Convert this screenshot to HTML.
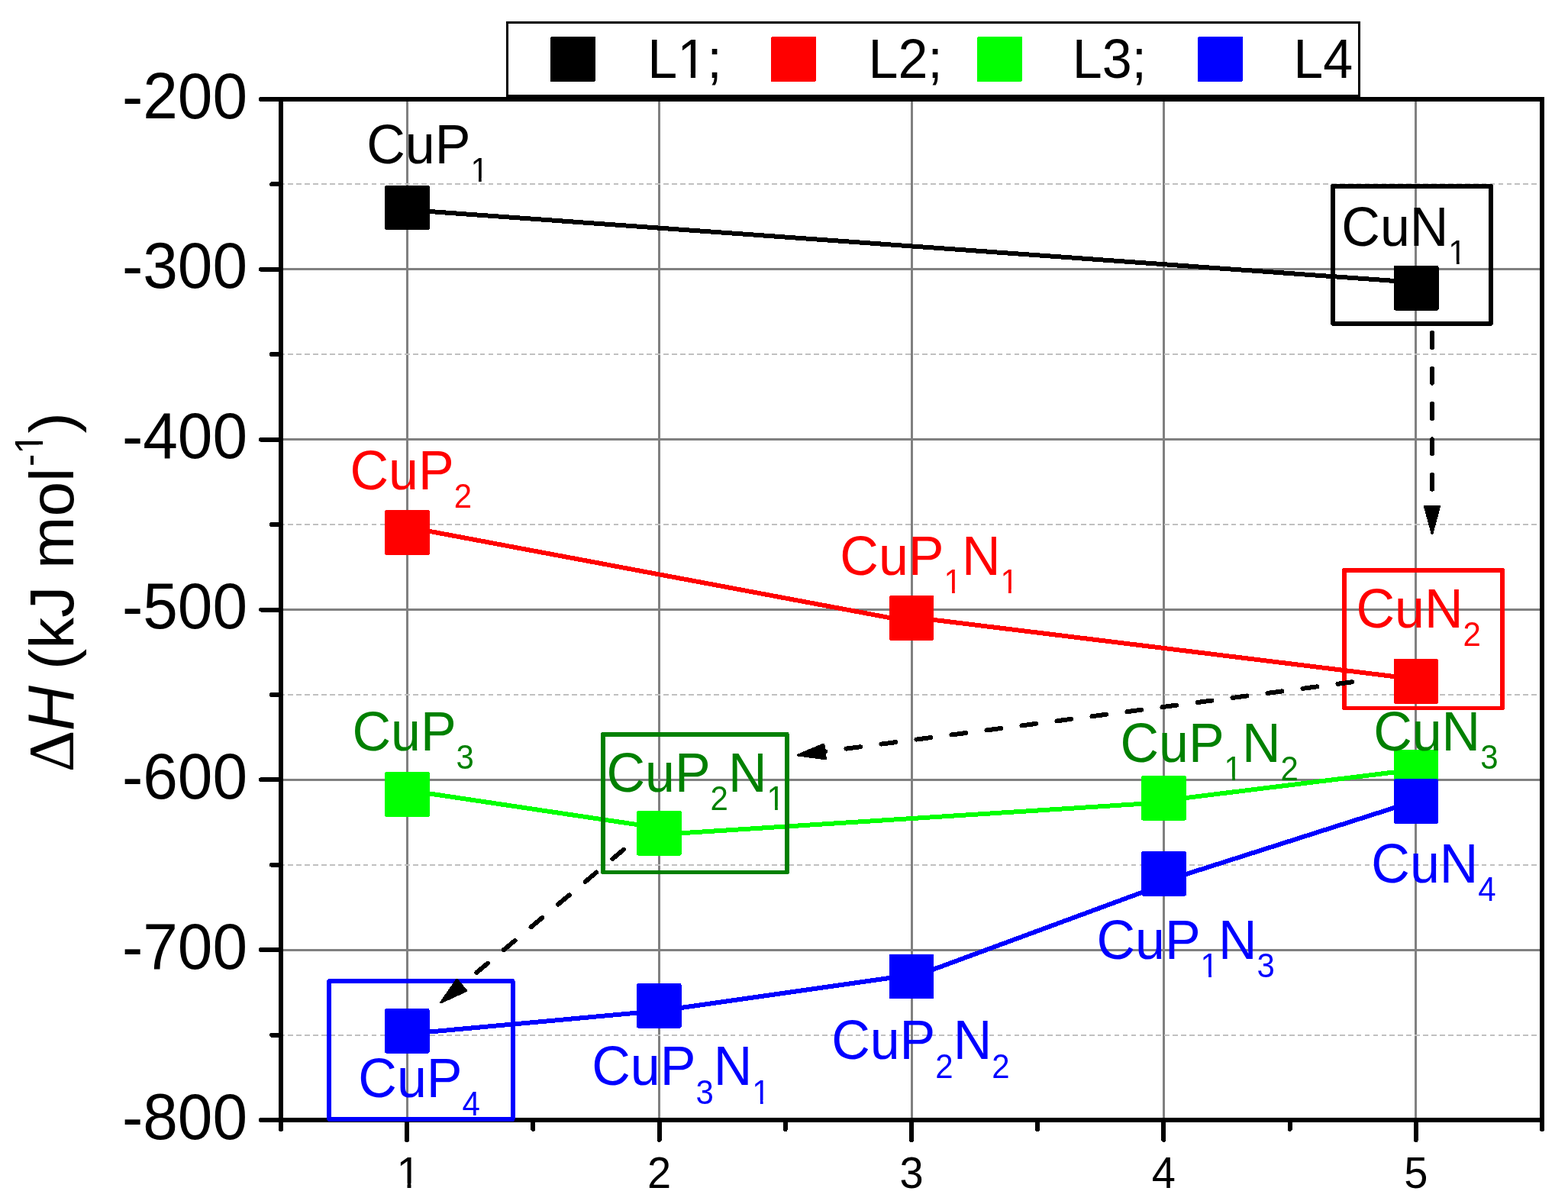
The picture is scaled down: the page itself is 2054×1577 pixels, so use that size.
<!DOCTYPE html>
<html><head><meta charset="utf-8"><title>Delta H chart</title>
<style>
html,body{margin:0;padding:0;background:#fff;}
svg{display:block;font-family:'Liberation Sans', Arial, sans-serif;}
line,rect,polygon,path{shape-rendering:crispEdges;}
</style></head>
<body>
<svg width="2054" height="1577" viewBox="0 0 2054 1577">
<defs>
<clipPath id="c1"><path clip-rule="evenodd" d="M-3000,-3000H3000V3000H-3000Z M137.87,18.86h8.86v6.94h-8.86Z M150.45,18.86h8.53v6.94h-8.53Z"/></clipPath>
<clipPath id="c2"><path clip-rule="evenodd" d="M-3000,-3000H3000V3000H-3000Z M141.73,18.86h8.86v6.94h-8.86Z M154.31,18.86h8.53v6.94h-8.53Z"/></clipPath>
<clipPath id="c3"><path clip-rule="evenodd" d="M-3000,-3000H3000V3000H-3000Z M137.87,18.86h8.86v6.94h-8.86Z M150.45,18.86h8.53v6.94h-8.53Z M211.78,18.86h8.86v6.94h-8.86Z M224.36,18.86h8.53v6.94h-8.53Z"/></clipPath>
<clipPath id="c4"><path clip-rule="evenodd" d="M-3000,-3000H3000V3000H-3000Z M211.78,18.86h8.86v6.94h-8.86Z M224.36,18.86h8.53v6.94h-8.53Z"/></clipPath>
<clipPath id="c5"><path clip-rule="evenodd" d="M-3000,-3000H3000V3000H-3000Z M137.87,18.86h8.86v6.94h-8.86Z M150.45,18.86h8.53v6.94h-8.53Z"/></clipPath>
<clipPath id="c6"><path clip-rule="evenodd" d="M-3000,-3000H3000V3000H-3000Z M211.78,18.86h8.86v6.94h-8.86Z M224.36,18.86h8.53v6.94h-8.53Z"/></clipPath>
<clipPath id="c7"><path clip-rule="evenodd" d="M-3000,-3000H3000V3000H-3000Z M137.87,18.86h8.86v6.94h-8.86Z M150.45,18.86h8.53v6.94h-8.53Z"/></clipPath>
<clipPath id="c8"><path clip-rule="evenodd" d="M-3000,-3000H3000V3000H-3000Z M2.77,-5.48h11.32v7.98h-11.32Z M19.03,-5.48h10.88v7.98h-10.88Z"/></clipPath>
<clipPath id="c9"><path clip-rule="evenodd" d="M-3000,-3000H3000V3000H-3000Z M418.77,-45.11h10.09v7.61h-10.09Z M433.19,-45.11h9.71v7.61h-9.71Z"/></clipPath>
<clipPath id="c10"><path clip-rule="evenodd" d="M-3000,-3000H3000V3000H-3000Z M42.76,-6.53h13.77v9.03h-13.77Z M62.72,-6.53h13.22v9.03h-13.22Z"/></clipPath>
</defs>
<rect width="2054" height="1577" fill="#fff"/>
<line x1="533.2" y1="130" x2="533.2" y2="1467" stroke="#808080" stroke-width="3"/>
<line x1="863.6" y1="130" x2="863.6" y2="1467" stroke="#808080" stroke-width="3"/>
<line x1="1194.0" y1="130" x2="1194.0" y2="1467" stroke="#808080" stroke-width="3"/>
<line x1="1524.4" y1="130" x2="1524.4" y2="1467" stroke="#808080" stroke-width="3"/>
<line x1="1854.8" y1="130" x2="1854.8" y2="1467" stroke="#808080" stroke-width="3"/>
<line x1="368" y1="352.8" x2="2020" y2="352.8" stroke="#808080" stroke-width="3"/>
<line x1="368" y1="575.7" x2="2020" y2="575.7" stroke="#808080" stroke-width="3"/>
<line x1="368" y1="798.5" x2="2020" y2="798.5" stroke="#808080" stroke-width="3"/>
<line x1="368" y1="1021.3" x2="2020" y2="1021.3" stroke="#808080" stroke-width="3"/>
<line x1="368" y1="1244.2" x2="2020" y2="1244.2" stroke="#808080" stroke-width="3"/>
<line x1="371" y1="241.4" x2="2017" y2="241.4" stroke="#c0c0c0" stroke-width="2" stroke-dasharray="6.7 4.233" stroke-dashoffset="4.593"/>
<line x1="371" y1="464.2" x2="2017" y2="464.2" stroke="#c0c0c0" stroke-width="2" stroke-dasharray="6.7 4.233" stroke-dashoffset="4.593"/>
<line x1="371" y1="687.1" x2="2017" y2="687.1" stroke="#c0c0c0" stroke-width="2" stroke-dasharray="6.7 4.233" stroke-dashoffset="4.593"/>
<line x1="371" y1="909.9" x2="2017" y2="909.9" stroke="#c0c0c0" stroke-width="2" stroke-dasharray="6.7 4.233" stroke-dashoffset="4.593"/>
<line x1="371" y1="1132.7" x2="2017" y2="1132.7" stroke="#c0c0c0" stroke-width="2" stroke-dasharray="6.7 4.233" stroke-dashoffset="4.593"/>
<line x1="371" y1="1355.6" x2="2017" y2="1355.6" stroke="#c0c0c0" stroke-width="2" stroke-dasharray="6.7 4.233" stroke-dashoffset="4.593"/>
<line x1="533.5" y1="274.9" x2="1855.2" y2="370.0" stroke="#000000" stroke-width="6"/>
<rect x="504.2" y="242.7" width="58.6" height="58.6" rx="2" fill="#000000"/>
<rect x="1825.9" y="348.0" width="58.6" height="58.6" rx="2" fill="#000000"/>
<line x1="533.5" y1="690.4" x2="1194.1" y2="814.5" stroke="#ff0000" stroke-width="6"/>
<line x1="1194.1" y1="808.3" x2="1854.9" y2="889.6" stroke="#ff0000" stroke-width="6"/>
<rect x="504.2" y="668.2" width="58.6" height="58.6" rx="2" fill="#ff0000"/>
<rect x="1164.8" y="780.1" width="58.6" height="58.6" rx="2" fill="#ff0000"/>
<rect x="1825.6" y="863.1" width="58.6" height="58.6" rx="2" fill="#ff0000"/>
<line x1="533.5" y1="1035.1" x2="863.5" y2="1084.4" stroke="#00ff00" stroke-width="6"/>
<line x1="863.5" y1="1093.1" x2="1524.5" y2="1051.0" stroke="#00ff00" stroke-width="6"/>
<line x1="1524.5" y1="1048.6" x2="1855.0" y2="1007.9" stroke="#00ff00" stroke-width="6"/>
<rect x="504.2" y="1011.2" width="58.6" height="58.6" rx="2" fill="#00ff00"/>
<rect x="834.2" y="1062.0" width="58.6" height="58.6" rx="2" fill="#00ff00"/>
<rect x="1495.2" y="1016.1" width="58.6" height="58.6" rx="2" fill="#00ff00"/>
<rect x="1825.7" y="982.1" width="58.6" height="58.6" rx="2" fill="#00ff00"/>
<line x1="533.4" y1="1354.2" x2="863.4" y2="1324.0" stroke="#0000ff" stroke-width="6"/>
<line x1="863.4" y1="1324.1" x2="1194.0" y2="1276.9" stroke="#0000ff" stroke-width="6"/>
<line x1="1194.0" y1="1280.3" x2="1524.6" y2="1158.3" stroke="#0000ff" stroke-width="6"/>
<line x1="1524.6" y1="1154.3" x2="1855.0" y2="1048.9" stroke="#0000ff" stroke-width="6"/>
<rect x="504.1" y="1321.1" width="58.6" height="58.6" rx="2" fill="#0000ff"/>
<rect x="834.1" y="1288.1" width="58.6" height="58.6" rx="2" fill="#0000ff"/>
<rect x="1164.7" y="1249.5" width="58.6" height="58.6" rx="2" fill="#0000ff"/>
<rect x="1495.3" y="1115.0" width="58.6" height="58.6" rx="2" fill="#0000ff"/>
<rect x="1825.7" y="1020.3" width="58.6" height="58.6" rx="2" fill="#0000ff"/>
<text transform="translate(480.25,214.00) scale(1,1.04)" fill="#000000" font-size="70" clip-path="url(#c1)"><tspan x="0.00" y="0">CuP</tspan><tspan x="136.17" y="23.3" font-size="42">1</tspan></text>
<text transform="translate(1757.35,321.90) scale(1,1.04)" fill="#000000" font-size="70" clip-path="url(#c2)"><tspan x="0.00" y="0">CuN</tspan><tspan x="140.03" y="23.3" font-size="42">1</tspan></text>
<text transform="translate(458.55,641.10) scale(1,1.04)" fill="#ff0000" font-size="70"><tspan x="0.00" y="0">CuP</tspan><tspan x="136.17" y="23.3" font-size="42">2</tspan></text>
<text transform="translate(1100.35,752.70) scale(1,1.04)" fill="#ff0000" font-size="70" clip-path="url(#c3)"><tspan x="0.00" y="0">CuP</tspan><tspan x="136.17" y="23.3" font-size="42">1</tspan><tspan x="159.53" y="0">N</tspan><tspan x="210.08" y="23.3" font-size="42">1</tspan></text>
<text transform="translate(1776.45,821.90) scale(1,1.04)" fill="#ff0000" font-size="70"><tspan x="0.00" y="0">CuN</tspan><tspan x="140.03" y="23.3" font-size="42">2</tspan></text>
<text transform="translate(461.45,983.10) scale(1,1.04)" fill="#008000" font-size="70"><tspan x="0.00" y="0">CuP</tspan><tspan x="136.17" y="23.3" font-size="42">3</tspan></text>
<text transform="translate(794.45,1036.70) scale(1,1.04)" fill="#008000" font-size="70" clip-path="url(#c4)"><tspan x="0.00" y="0">CuP</tspan><tspan x="136.17" y="23.3" font-size="42">2</tspan><tspan x="159.53" y="0">N</tspan><tspan x="210.08" y="23.3" font-size="42">1</tspan></text>
<text transform="translate(1467.45,998.00) scale(1,1.04)" fill="#008000" font-size="70" clip-path="url(#c5)"><tspan x="0.00" y="0">CuP</tspan><tspan x="136.17" y="23.3" font-size="42">1</tspan><tspan x="159.53" y="0">N</tspan><tspan x="210.08" y="23.3" font-size="42">2</tspan></text>
<text transform="translate(1799.15,982.50) scale(1,1.04)" fill="#008000" font-size="70"><tspan x="0.00" y="0">CuN</tspan><tspan x="140.03" y="23.3" font-size="42">3</tspan></text>
<text transform="translate(469.35,1436.60) scale(1,1.04)" fill="#0000ff" font-size="70"><tspan x="0.00" y="0">CuP</tspan><tspan x="136.17" y="23.3" font-size="42">4</tspan></text>
<text transform="translate(775.25,1421.40) scale(1,1.04)" fill="#0000ff" font-size="70" clip-path="url(#c6)"><tspan x="0.00" y="0">CuP</tspan><tspan x="136.17" y="23.3" font-size="42">3</tspan><tspan x="159.53" y="0">N</tspan><tspan x="210.08" y="23.3" font-size="42">1</tspan></text>
<text transform="translate(1089.15,1387.30) scale(1,1.04)" fill="#0000ff" font-size="70"><tspan x="0.00" y="0">CuP</tspan><tspan x="136.17" y="23.3" font-size="42">2</tspan><tspan x="159.53" y="0">N</tspan><tspan x="210.08" y="23.3" font-size="42">2</tspan></text>
<text transform="translate(1436.45,1255.90) scale(1,1.04)" fill="#0000ff" font-size="70" clip-path="url(#c7)"><tspan x="0.00" y="0">CuP</tspan><tspan x="136.17" y="23.3" font-size="42">1</tspan><tspan x="159.53" y="0">N</tspan><tspan x="210.08" y="23.3" font-size="42">3</tspan></text>
<text transform="translate(1796.35,1155.80) scale(1,1.04)" fill="#0000ff" font-size="70"><tspan x="0.00" y="0">CuN</tspan><tspan x="140.03" y="23.3" font-size="42">4</tspan></text>
<rect x="368" y="130" width="1652" height="1337" fill="none" stroke="#000" stroke-width="6"/>
<line x1="368" y1="130.0" x2="342" y2="130.0" stroke="#000" stroke-width="6" stroke-linecap="round"/>
<line x1="368" y1="352.8" x2="342" y2="352.8" stroke="#000" stroke-width="6" stroke-linecap="round"/>
<line x1="368" y1="575.7" x2="342" y2="575.7" stroke="#000" stroke-width="6" stroke-linecap="round"/>
<line x1="368" y1="798.5" x2="342" y2="798.5" stroke="#000" stroke-width="6" stroke-linecap="round"/>
<line x1="368" y1="1021.3" x2="342" y2="1021.3" stroke="#000" stroke-width="6" stroke-linecap="round"/>
<line x1="368" y1="1244.2" x2="342" y2="1244.2" stroke="#000" stroke-width="6" stroke-linecap="round"/>
<line x1="368" y1="1467.0" x2="342" y2="1467.0" stroke="#000" stroke-width="6" stroke-linecap="round"/>
<line x1="368" y1="241.4" x2="356" y2="241.4" stroke="#000" stroke-width="6" stroke-linecap="round"/>
<line x1="368" y1="464.2" x2="356" y2="464.2" stroke="#000" stroke-width="6" stroke-linecap="round"/>
<line x1="368" y1="687.1" x2="356" y2="687.1" stroke="#000" stroke-width="6" stroke-linecap="round"/>
<line x1="368" y1="909.9" x2="356" y2="909.9" stroke="#000" stroke-width="6" stroke-linecap="round"/>
<line x1="368" y1="1132.7" x2="356" y2="1132.7" stroke="#000" stroke-width="6" stroke-linecap="round"/>
<line x1="368" y1="1355.6" x2="356" y2="1355.6" stroke="#000" stroke-width="6" stroke-linecap="round"/>
<line x1="533.2" y1="1467" x2="533.2" y2="1493" stroke="#000" stroke-width="6" stroke-linecap="round"/>
<line x1="863.6" y1="1467" x2="863.6" y2="1493" stroke="#000" stroke-width="6" stroke-linecap="round"/>
<line x1="1194.0" y1="1467" x2="1194.0" y2="1493" stroke="#000" stroke-width="6" stroke-linecap="round"/>
<line x1="1524.4" y1="1467" x2="1524.4" y2="1493" stroke="#000" stroke-width="6" stroke-linecap="round"/>
<line x1="1854.8" y1="1467" x2="1854.8" y2="1493" stroke="#000" stroke-width="6" stroke-linecap="round"/>
<line x1="368.0" y1="1467" x2="368.0" y2="1479" stroke="#000" stroke-width="6" stroke-linecap="round"/>
<line x1="698.4" y1="1467" x2="698.4" y2="1479" stroke="#000" stroke-width="6" stroke-linecap="round"/>
<line x1="1028.8" y1="1467" x2="1028.8" y2="1479" stroke="#000" stroke-width="6" stroke-linecap="round"/>
<line x1="1359.2" y1="1467" x2="1359.2" y2="1479" stroke="#000" stroke-width="6" stroke-linecap="round"/>
<line x1="1689.6" y1="1467" x2="1689.6" y2="1479" stroke="#000" stroke-width="6" stroke-linecap="round"/>
<line x1="2020.0" y1="1467" x2="2020.0" y2="1479" stroke="#000" stroke-width="6" stroke-linecap="round"/>
<rect x="1746.2" y="243.8" width="206.7" height="180.0" fill="none" stroke="#000000" stroke-width="5.8" stroke-linejoin="round"/>
<rect x="1760.9" y="746.9" width="207.3" height="180.6" fill="none" stroke="#ff0000" stroke-width="5.8" stroke-linejoin="round"/>
<rect x="790.1" y="961.9" width="240.7" height="180.6" fill="none" stroke="#008000" stroke-width="5.8" stroke-linejoin="round"/>
<rect x="431.1" y="1285.2" width="240.6" height="180.6" fill="none" stroke="#0000ff" stroke-width="5.8" stroke-linejoin="round"/>
<line x1="1876.0" y1="436.2" x2="1876.0" y2="685.0" stroke="#000" stroke-width="6" stroke-linecap="round" stroke-dasharray="19 27.4"/>
<polygon points="1876.0,698.5 1866.5,663.5 1885.5,663.5" fill="#000" stroke="#000" stroke-width="3" stroke-linejoin="round"/>
<line x1="1771.3" y1="893.3" x2="1058.9" y2="987.2" stroke="#000" stroke-width="6" stroke-linecap="round" stroke-dasharray="19 27.4"/>
<polygon points="1045.5,989.0 1078.9,975.0 1081.4,993.8" fill="#000" stroke="#000" stroke-width="3" stroke-linejoin="round"/>
<line x1="816.9" y1="1112.8" x2="588.1" y2="1304.2" stroke="#000" stroke-width="6" stroke-linecap="round" stroke-dasharray="19 27.4"/>
<polygon points="577.8,1312.8 598.5,1283.1 610.7,1297.7" fill="#000" stroke="#000" stroke-width="3" stroke-linejoin="round"/>
<text transform="translate(324,154.5) scale(1,1.04)" text-anchor="end" font-size="82">-200</text>
<text transform="translate(324,377.3) scale(1,1.04)" text-anchor="end" font-size="82">-300</text>
<text transform="translate(324,600.2) scale(1,1.04)" text-anchor="end" font-size="82">-400</text>
<text transform="translate(324,823.0) scale(1,1.04)" text-anchor="end" font-size="82">-500</text>
<text transform="translate(324,1045.8) scale(1,1.04)" text-anchor="end" font-size="82">-600</text>
<text transform="translate(324,1268.7) scale(1,1.04)" text-anchor="end" font-size="82">-700</text>
<text transform="translate(324,1491.5) scale(1,1.04)" text-anchor="end" font-size="82">-800</text>
<text transform="translate(519.43,1555.5) scale(1,1.04)" font-size="56" clip-path="url(#c8)">1</text>
<text transform="translate(848.03,1555.5) scale(1,1.04)" font-size="56">2</text>
<text transform="translate(1178.43,1555.5) scale(1,1.04)" font-size="56">3</text>
<text transform="translate(1508.83,1555.5) scale(1,1.04)" font-size="56">4</text>
<text transform="translate(1839.23,1555.5) scale(1,1.04)" font-size="56">5</text>
<text transform="translate(96,1011.2) rotate(-90)" font-size="82" clip-path="url(#c9)"><tspan x="0" y="0" font-family="'Liberation Serif', serif" font-size="85">Δ</tspan><tspan x="54.00" y="0" font-style="italic" font-size="85.28" textLength="59.22" lengthAdjust="spacingAndGlyphs">H</tspan><tspan x="111.42" y="0"> (kJ mol</tspan><tspan x="400.22" y="-40" font-size="50.96" textLength="43.57" lengthAdjust="spacingAndGlyphs">-1</tspan><tspan x="443.79" y="0">)</tspan></text>
<rect x="664.5" y="29.5" width="1116" height="96" fill="#fff" stroke="#000" stroke-width="3"/>
<rect x="721" y="48" width="59" height="59" rx="2" fill="#000000"/>
<text transform="translate(848.3,101.8) scale(1,1.04)" font-size="70" clip-path="url(#c10)">L1;</text>
<rect x="1010" y="48" width="59" height="59" rx="2" fill="#ff0000"/>
<text transform="translate(1137.5,101.8) scale(1,1.04)" font-size="70">L2;</text>
<rect x="1280" y="48" width="59" height="59" rx="2" fill="#00ff00"/>
<text transform="translate(1404.7,101.8) scale(1,1.04)" font-size="70">L3;</text>
<rect x="1569" y="48" width="59" height="59" rx="2" fill="#0000ff"/>
<text transform="translate(1694.3,101.8) scale(1,1.04)" font-size="70">L4</text>
</svg>
</body></html>
